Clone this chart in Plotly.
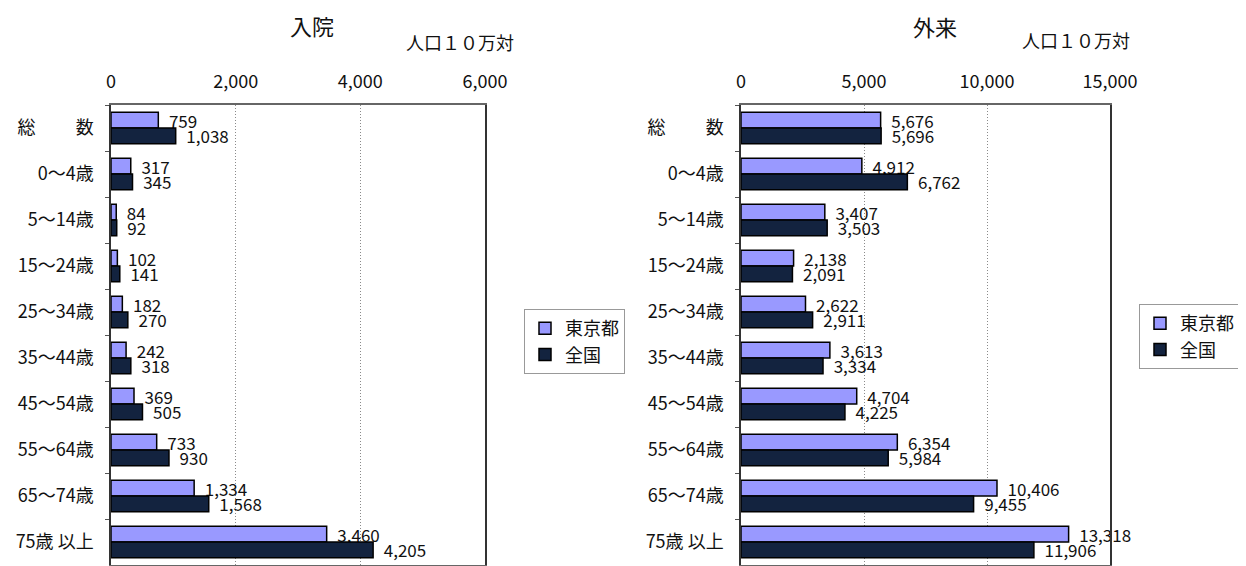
import plotly.graph_objects as go

categories = ["総　　 数", "0～4歳", "5～14歳", "15～24歳", "25～34歳",
              "35～44歳", "45～54歳", "55～64歳", "65～74歳", "75歳 以上"]

inpatient_tokyo = [759, 317, 84, 102, 182, 242, 369, 733, 1334, 3460]
inpatient_japan = [1038, 345, 92, 141, 270, 318, 505, 930, 1568, 4205]
outpatient_tokyo = [5676, 4912, 3407, 2138, 2622, 3613, 4704, 6354, 10406, 13318]
outpatient_japan = [5696, 6762, 3503, 2091, 2911, 3334, 4225, 5984, 9455, 11906]

series_names = ["東京都", "全国"]
colors = ["#9999FF", "#13233F"]

FONT = "Noto Sans CJK JP, Noto Sans, sans-serif"
LABEL_FONT = "Liberation Sans Narrow, Noto Sans CJK JP, sans-serif"

fig = go.Figure()

def add_pair(vals_t, vals_j, xa, ya, legend):
    for name, vals, col in zip(series_names, [vals_t, vals_j], colors):
        fig.add_trace(go.Bar(
            y=categories, x=vals, name=name, orientation="h",
            marker=dict(color=col, line=dict(color="#000000", width=1.5)),
            text=[f"  {v:,}" for v in vals], textposition="outside",
            constraintext="none",
            textfont=dict(family=LABEL_FONT, size=17, color="#111111"),
            cliponaxis=False, xaxis=xa, yaxis=ya, legend=legend,
            hoverinfo="skip",
        ))

add_pair(inpatient_tokyo, inpatient_japan, "x", "y", "legend")
add_pair(outpatient_tokyo, outpatient_japan, "x2", "y2", "legend2")

# page has an 8px body margin; scrollbars are hidden, figure ends at window edge
OFF = 8
W, H = 1238, 558

def px(x):
    return (x - OFF) / W

def py(y):
    return 1 - (y - OFF) / H

common_x = dict(side="top", showgrid=True, gridcolor="#8a8a8a", griddash="1px,2px",
                gridwidth=1, showline=True, mirror=True, linecolor="#666666",
                linewidth=1.5, ticks="", tickformat=",", zeroline=False,
                automargin=False,
                tickfont=dict(family=FONT, size=18, color="#111111"),
                ticklabelstandoff=8)
common_y = dict(autorange="reversed", showline=True, mirror=True,
                linecolor="#333333", automargin=False,
                linewidth=1.5, ticks="outside", tickson="boundaries", ticklen=4,
                tickcolor="#555555", showgrid=False,
                tickfont=dict(family=FONT, size=18, color="#111111"),
                ticklabelstandoff=12)

legend_common = dict(yanchor="top", bgcolor="white", bordercolor="#999999",
                     borderwidth=1, font=dict(family=FONT, size=18, color="#111111"),
                     itemwidth=30, tracegroupgap=0)

fig.update_layout(
    width=W, height=H,
    margin=dict(l=0, r=0, t=0, b=0, autoexpand=False),
    paper_bgcolor="white", plot_bgcolor="white",
    barmode="group", bargap=0.32, bargroupgap=0,
    font=dict(family=FONT, color="#111111"),
    xaxis=dict(domain=[px(111), px(485)], range=[0, 6000], dtick=2000,
               anchor="y", **common_x),
    yaxis=dict(domain=[py(565), py(105)], anchor="x", **common_y),
    xaxis2=dict(domain=[px(741), px(1110)], range=[0, 15000], dtick=5000,
                anchor="y2", **common_x),
    yaxis2=dict(domain=[py(565), py(105)], anchor="x2", **common_y),
    legend=dict(x=px(524), y=py(309), xanchor="left", **legend_common),
    legend2=dict(x=px(1240), y=py(304), xanchor="right", **legend_common),
    showlegend=True,
    annotations=[
        dict(text="入院", x=px(312), y=py(25), xref="paper", yref="paper",
             xanchor="center", yanchor="middle", showarrow=False,
             font=dict(family=FONT, size=22, color="#111111")),
        dict(text="人口１０万対", x=px(460), y=py(42), xref="paper", yref="paper",
             xanchor="center", yanchor="middle", showarrow=False,
             font=dict(family=FONT, size=18, color="#111111")),
        dict(text="外来", x=px(935), y=1.0, xref="paper", yref="paper",
             xanchor="center", yanchor="top", showarrow=False,
             font=dict(family=FONT, size=22, color="#111111")),
        dict(text="人口１０万対", x=px(1076), y=py(40), xref="paper", yref="paper",
             xanchor="center", yanchor="middle", showarrow=False,
             font=dict(family=FONT, size=18, color="#111111")),
    ],
)

fig.write_html("out.html")
